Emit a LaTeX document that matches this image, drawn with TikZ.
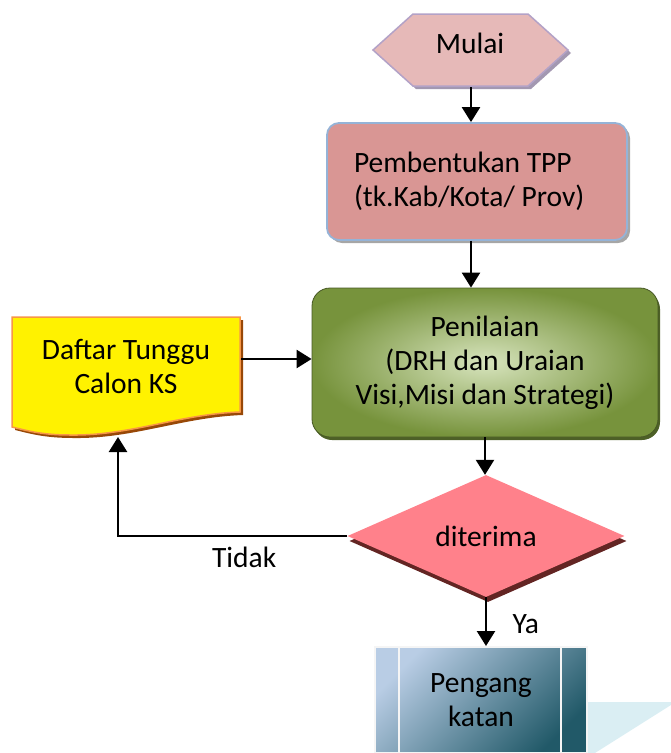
\documentclass[tikz,border=0pt]{standalone}
\usepackage{fontspec}
\setmainfont{Carlito}
\usepackage{xcolor}
\usetikzlibrary{arrows.meta,calc,positioning,shapes.geometric,shadows}

\definecolor{startpink}{HTML}{E6B9B8}
\definecolor{startedge}{HTML}{B3A2C7}
\definecolor{tpprose}{HTML}{D99694}
\definecolor{tppedge}{HTML}{95B3D7}
\definecolor{olivedark}{HTML}{77933C}
\definecolor{olivelight}{HTML}{D7E4BD}
\definecolor{waitedge}{HTML}{F79646}
\definecolor{waitshade}{HTML}{984807}
\definecolor{decpink}{HTML}{FF818B}
\definecolor{decshade}{HTML}{632523}
\definecolor{procblue}{HTML}{B9CDE5}
\definecolor{procteal}{HTML}{215968}
\definecolor{paleblue}{HTML}{DAEEF3}

\begin{document}
\begin{tikzpicture}[x=1pt,y=-1pt,>={Triangle[width=18pt,length=15pt]},
  every node/.style={font=\fontsize{29.5}{34}\selectfont},
  flow/.style={->,line width=2.4pt}]
  \useasboundingbox (0,0) rectangle (671,753);
  \fill[paleblue] (587,702) -- (671,702) -- (671,705) -- (595,753) -- (587,753) -- cycle;
  % start
  \fill[startedge!70!gray,shift={(3,3)}] (373,50) -- (413,14) -- (528,14) -- (568,50) -- (528,86) -- (413,86) -- cycle;
  \draw[startedge,line width=1.5pt,fill=startpink] (373,50) -- (413,14) -- (528,14) -- (568,50) -- (528,86) -- (413,86) -- cycle;
  \node (mulai) at (470,43) {Mulai};
  \coordinate (mulaibot) at (471,87);
  % boxes
  \node[draw=tppedge,line width=1.8pt,fill=tpprose,rounded corners=12pt,
    minimum width=300pt,minimum height=117pt,inner xsep=27pt,text width=246pt,align=flush left,
    general shadow={fill=gray!70,shadow xshift=3pt,shadow yshift=-3pt}]
    (tpp) at (477,181.5) {Pembentukan TPP\\(tk.Kab/Kota/ Prov)};
  \node[draw=olivedark!60!black,line width=0.8pt,rounded corners=18pt,
    shading=radial,inner color=olivelight,outer color=olivedark,
    minimum width=346pt,minimum height=149pt,align=center,
    general shadow={fill=olivedark!65!black,shadow xshift=2pt,shadow yshift=-3pt}]
    (nilai) at (485,362.5) {Penilaian\\(DRH dan Uraian\\Visi,Misi dan Strategi)};
  % waiting list
  \fill[waitshade,shift={(3,3)}] (12,317) -- (240,317) -- (240,412)
    .. controls (180,414) and (130,436) .. (70,435) .. controls (40,435) and (25,430) .. (12,427) -- cycle;
  \draw[waitedge,line width=1.5pt,fill=yellow] (12,317) -- (240,317) -- (240,412)
    .. controls (180,414) and (130,436) .. (70,435) .. controls (40,435) and (25,430) .. (12,427) -- cycle;
  \node[align=center] (wait) at (126,366) {Daftar Tunggu\\Calon KS};
  \coordinate (waitright) at (241,359);
  \coordinate (waitbot) at (118,437);
  % decision
  \node[diamond,fill=decpink,minimum width=277pt,minimum height=102pt,inner sep=0pt,
    general shadow={fill=decshade,shadow xshift=2pt,shadow yshift=-5pt}]
    (terima) at (486,536) {diterima};
  % end
  \node[draw=gray!8,line width=2pt,top color=procblue,bottom color=procteal,shading angle=45,
    minimum width=212pt,minimum height=106pt,align=center]
    (angkat) at (481,700) {Pengang\\katan};
  \foreach \s in {25,187}
    \draw[gray!8,line width=2pt] ([xshift=\s pt]angkat.north west) -- ([xshift=\s pt]angkat.south west);
  % connectors
  \draw[flow] (mulaibot) -- (mulaibot |- tpp.north);
  \draw[flow] (tpp.south -| mulaibot) -- (mulaibot |- nilai.north);
  \draw[flow] (waitright) -- (waitright -| nilai.west);
  \draw[flow] (nilai.south) -- (nilai.south |- terima.north);
  \draw[flow] (terima.south) -- node[pos=0.55,right=22pt] {Ya} (terima.south |- angkat.north);
  \draw[flow] (terima.west) -- node[pos=0.45,below=6pt] {Tidak} (terima.west -| waitbot) -- (waitbot);
\end{tikzpicture}
\end{document}
